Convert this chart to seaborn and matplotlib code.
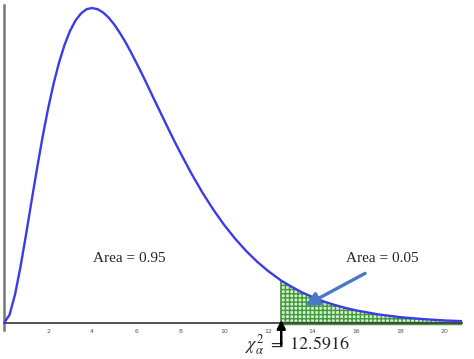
import numpy as np
import pandas as pd
import matplotlib
matplotlib.use("Agg")
import matplotlib.pyplot as plt
import seaborn as sns

# Values (density curve)
x_vals = [0, 0.25, 0.5, 0.75, 1, 1.25, 1.5, 1.75, 2, 2.25, 2.5, 2.75, 3, 3.25, 3.5, 3.75,
          4, 4.25, 4.5, 4.75, 5, 5.25, 5.5, 5.75, 6, 6.25, 6.5, 6.75, 7, 7.25, 7.5, 7.75,
          8, 8.5, 9, 9.5, 10, 10.5, 11, 11.5, 12, 12.5916, 13, 13.5, 14, 14.5, 15, 15.5,
          16, 17, 18, 19, 20, 20.8]
density = [0.0, 0.0035, 0.0122, 0.0242, 0.0379, 0.0523, 0.0664, 0.0798, 0.0920, 0.1027,
           0.1119, 0.1195, 0.1255, 0.1300, 0.1330, 0.1348, 0.1353, 0.1348, 0.1334,
           0.1312, 0.1283, 0.1248, 0.1209, 0.1166, 0.1120, 0.1073, 0.1024, 0.0974,
           0.0925, 0.0876, 0.0827, 0.0779, 0.0733, 0.0644, 0.0562, 0.0488, 0.0421,
           0.0362, 0.0309, 0.0263, 0.0223, 0.0182, 0.0159, 0.0133, 0.0112, 0.0093,
           0.0078, 0.0065, 0.0054, 0.0037, 0.0025, 0.0017, 0.0011, 0.0008]
critical = 12.5916
tick_vals = [2, 4, 6, 8, 10, 12, 14, 16, 18, 20]
label_left = "Area = 0.95"
label_right = "Area = 0.05"

df = pd.DataFrame({"x": x_vals, "y": density})

sns.set_style("white")
plt.rcParams["mathtext.fontset"] = "stix"
fig = plt.figure(figsize=(4.74, 3.59), dpi=100)
W, H = 474, 359
ax = fig.add_axes([4 / W, 29 / H, 458 / W, 325 / H])

# shaded tail
tail = df[df["x"] >= critical]
ax.fill_between(tail["x"], 0, tail["y"], facecolor="#d6efcf", edgecolor="#3f9a3a",
                hatch="++++", linewidth=0.0, zorder=1)
ax.plot([critical, critical], [0, tail["y"].iloc[0]], color="#3f9a3a", lw=1.2, zorder=2)
ax.plot([critical, 20.8], [0, 0], color="#3f9a3a", lw=2.5, zorder=2)

sns.lineplot(data=df, x="x", y="y", ax=ax, color="#3b3bea", lw=1.7, zorder=3)

ax.set_xlim(0, 20.8)
ax.set_ylim(-0.003, 0.1366)
ax.set_xlabel("")
ax.set_ylabel("")
ax.set_yticks([])
ax.set_xticks(tick_vals)
ax.set_xticklabels([str(t) for t in tick_vals])
ax.tick_params(axis="x", direction="inout", length=6, width=0.8, color="#444444", pad=1,
               labelsize=4.5, labelcolor="#555555")
for lbl in ax.get_xticklabels():
    lbl.set_family("Liberation Serif")
ax.spines["bottom"].set_position(("data", 0))
ax.spines["bottom"].set_color("#444444")
ax.spines["bottom"].set_linewidth(1.3)
ax.spines["left"].set_color("#777777")
ax.spines["left"].set_linewidth(1.8)
ax.spines["top"].set_visible(False)
ax.spines["right"].set_visible(False)

ax.text(5.71, 0.0279, label_left, ha="center", va="center", fontsize=11,
        family="Liberation Serif")
ax.text(17.19, 0.0279, label_right, ha="center", va="center", fontsize=11,
        family="Liberation Serif")

ax.annotate("", xy=(13.56, 0.0069), xytext=(16.51, 0.0219),
            arrowprops=dict(arrowstyle="-|>,head_width=0.4,head_length=0.8",
                            color="#4a78c8", lw=2.4), zorder=5)

ax.annotate("", xy=(critical, 0.0025), xytext=(critical, -0.0107),
            arrowprops=dict(arrowstyle="-|>,head_width=0.25,head_length=0.5",
                            color="black", lw=1.8), annotation_clip=False, zorder=6)

ax.text(13.3, -0.0093, r"$\chi_\alpha^2\ =\ 12.5916$", ha="center", va="center",
        fontsize=13, clip_on=False)

fig.savefig("out.png", dpi=100)
